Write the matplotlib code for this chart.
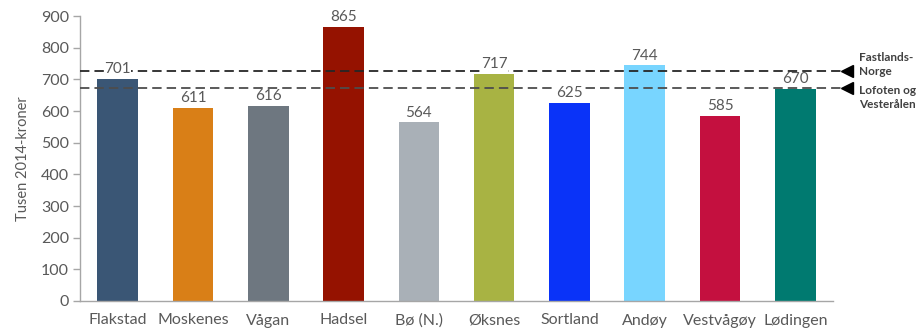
import matplotlib
matplotlib.use("Agg")
from matplotlib import pyplot as plt

# Data
kommuner = ["Flakstad", "Moskenes", "Vågan", "Hadsel", "Bø (N.)",
            "Øksnes", "Sortland", "Andøy", "Vestvågøy", "Lødingen"]
verdier = [701, 611, 616, 865, 564, 717, 625, 744, 585, 670]
farger = ["#3A5675", "#D97F17", "#6E7780", "#951200", "#A9B0B7",
          "#A8B343", "#0A33F8", "#78D5FF", "#C4103F", "#007A70"]
fastland_norge = 726
lofoten_vesteraalen = 673
referanse_tekst = ["Fastlands-\nNorge", "Lofoten og\nVesterålen"]

plt.rcParams["font.family"] = ["Lato", "DejaVu Sans"]
tekstfarge = "#595959"

fig = plt.figure(figsize=(9.21, 3.34), dpi=100)
ax = fig.add_axes([80 / 921, 1 - 301 / 334, 753 / 921, 285 / 334])

x = list(range(len(kommuner)))
ax.bar(x, verdier, width=0.54, color=farger, zorder=2)

# Reference lines (drawn over bars, under the value labels)
for y, c in ((fastland_norge, "#262626"), (lofoten_vesteraalen, "#4D4D4D")):
    ax.axhline(y, xmin=0, xmax=1.01, color=c, lw=1.3,
               dashes=(5.2, 2.8), zorder=3, clip_on=False)
    ax.plot([1.018], [y], marker="<", markersize=8, color="black",
            transform=ax.get_yaxis_transform(), clip_on=False)

ax.text(1.035, fastland_norge + 20, referanse_tekst[0], transform=ax.get_yaxis_transform(),
        fontsize=8.5, fontweight="bold", color="#404040", va="center", ha="left",
        linespacing=1.3)
ax.text(1.035, lofoten_vesteraalen - 30, referanse_tekst[1], transform=ax.get_yaxis_transform(),
        fontsize=8.5, fontweight="bold", color="#404040", va="center", ha="left",
        linespacing=1.4)

for xi, v in zip(x, verdier):
    ax.text(xi, v + 18, str(v), ha="center", va="baseline", fontsize=11,
            color=tekstfarge, zorder=4,
            bbox=dict(facecolor="white", edgecolor="none", pad=0.2))

ax.set_xlim(-0.5, 9.5)
ax.set_ylim(0, 900)
ax.set_yticks(range(0, 901, 100))
ax.set_xticks(x)
ax.set_xticklabels(kommuner)
ax.tick_params(axis="x", length=0, pad=9, labelsize=11.5, labelcolor=tekstfarge)
ax.tick_params(axis="y", length=5, width=1, color="#A6A6A6", pad=3,
               labelsize=11.5, labelcolor=tekstfarge)

for side in ("top", "right"):
    ax.spines[side].set_visible(False)
for side in ("left", "bottom"):
    ax.spines[side].set_color("#A6A6A6")
    ax.spines[side].set_linewidth(1)

ax.set_ylabel("Tusen 2014-kroner", fontsize=10.5, color=tekstfarge, labelpad=8)

fig.savefig("out.png", dpi=100)
